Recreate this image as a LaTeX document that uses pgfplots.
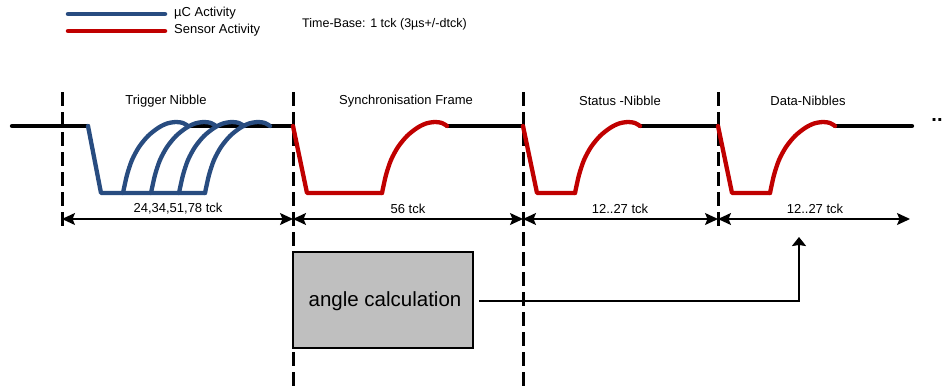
\documentclass[border=0pt]{standalone}
\usepackage{pgfplots}
\pgfplotsset{compat=1.18}
\usepackage{fontspec}
\setmainfont{Liberation Sans}
\usetikzlibrary{arrows.meta}
\definecolor{uCblue}{RGB}{40,76,128}
\definecolor{sred}{RGB}{192,0,0}
\definecolor{boxgray}{RGB}{191,191,191}
\begin{document}
\begin{tikzpicture}
\begin{axis}[
  scale only axis, width=947pt, height=391pt,
  xmin=0, xmax=947, ymin=0, ymax=391, y dir=reverse,
  hide axis, clip=false,
  every axis plot/.append style={line cap=round, line join=round},
]
% legend lines
\addplot[uCblue, line width=4.5pt] coordinates {(68,14) (165,14)};
\addplot[sred, line width=4.5pt] coordinates {(68,31) (165,31)};
\node[anchor=west, font=\fontsize{13}{14}\selectfont, inner sep=0pt] at (axis cs:174,13) {µC Activity};
\node[anchor=west, font=\fontsize{13}{14}\selectfont, inner sep=0pt] at (axis cs:174,30) {Sensor Activity};
\node[anchor=west, font=\fontsize{12.5}{14}\selectfont, inner sep=0pt] at (axis cs:302,24) {Time-Base: 1 tck (3µs+/-dtck)};

% dashed frame separators
\addplot[black, line width=3pt, dash pattern=on 14pt off 6pt, line cap=butt] coordinates {(62,92) (62,228)};
\addplot[black, line width=3pt, dash pattern=on 14pt off 6pt, line cap=butt] coordinates {(293,92) (293,391)};
\addplot[black, line width=3pt, dash pattern=on 14pt off 6pt, line cap=butt] coordinates {(523,92) (523,391)};
\addplot[black, line width=3pt, dash pattern=on 14pt off 6pt, line cap=butt] coordinates {(718,92) (718,228)};

% idle (black) level
\addplot[black, line width=4.3pt] coordinates {(12,126) (88,126)};
\addplot[black, line width=4.3pt] coordinates {(189,126) (293,126)};
\addplot[black, line width=4.3pt] coordinates {(447,126) (523,126)};
\addplot[black, line width=4.3pt] coordinates {(640,126) (718,126)};
\addplot[black, line width=4.3pt] coordinates {(835,126) (912,126)};

% trigger nibble (uC)
\addplot[uCblue, line width=4.3pt] coordinates {(88,126) (101,193) (205,193)};
\addplot[uCblue, line width=4.3pt, smooth] coordinates {(123,193) (127,175) (132,160) (139,147) (148,136) (158,128) (167,123.5) (176,122) (183,123) (188,126)};
\addplot[uCblue, line width=4.3pt, smooth] coordinates {(151,193) (155,175) (160,160) (167,147) (176,136) (186,128) (195,123.5) (204,122) (211,123) (216,126)};
\addplot[uCblue, line width=4.3pt, smooth] coordinates {(179,193) (183,175) (188,160) (195,147) (204,136) (214,128) (223,123.5) (232,122) (239,123) (244,126)};
\addplot[uCblue, line width=4.3pt, smooth] coordinates {(205,193) (209,175) (214,160) (221,147) (230,136) (240,128) (249,123.5) (258,122) (265,123) (270,126)};

% synchronisation frame (sensor)
\addplot[sred, line width=4.3pt] coordinates {(293,126) (307,193) (382,193)};
\addplot[sred, line width=4.3pt, smooth] coordinates {(382,193) (386,175) (391,160) (398,147) (407,136) (417,128) (426,123.5) (435,122) (442,123) (447,126)};
% status nibble
\addplot[sred, line width=4.3pt] coordinates {(523,126) (537,193) (575,193)};
\addplot[sred, line width=4.3pt, smooth] coordinates {(575,193) (579,175) (584,160) (591,147) (600,136) (610,128) (619,123.5) (628,122) (635,123) (640,126)};
% data nibbles
\addplot[sred, line width=4.3pt] coordinates {(718,126) (732,193) (770,193)};
\addplot[sred, line width=4.3pt, smooth] coordinates {(770,193) (774,175) (779,160) (786,147) (795,136) (805,128) (814,123.5) (823,122) (830,123) (835,126)};

\node[font=\fontsize{20}{20}\selectfont\bfseries, inner sep=0pt] at (axis cs:937,120) {..};

% titles
\node[font=\fontsize{13}{14}\selectfont] at (axis cs:166,101) {Trigger Nibble};
\node[font=\fontsize{13}{14}\selectfont] at (axis cs:406,101) {Synchronisation Frame};
\node[font=\fontsize{13}{14}\selectfont] at (axis cs:620,101) {Status -Nibble};
\node[font=\fontsize{13}{14}\selectfont] at (axis cs:808,101) {Data-Nibbles};

% dimension arrows
\draw[line width=1.4pt, {Stealth[length=13pt,width=12pt,inset=2.5pt]}-{Stealth[length=13pt,width=12pt,inset=2.5pt]}] (axis cs:62,219) -- (axis cs:293,219);
\draw[line width=1.4pt, {Stealth[length=13pt,width=12pt,inset=2.5pt]}-{Stealth[length=13pt,width=12pt,inset=2.5pt]}] (axis cs:293,219) -- (axis cs:523,219);
\draw[line width=1.4pt, {Stealth[length=13pt,width=12pt,inset=2.5pt]}-{Stealth[length=13pt,width=12pt,inset=2.5pt]}] (axis cs:523,219) -- (axis cs:718,219);
\draw[line width=1.4pt, {Stealth[length=13pt,width=12pt,inset=2.5pt]}-{Stealth[length=13pt,width=12pt,inset=2.5pt]}] (axis cs:718,219) -- (axis cs:910,219);
\node[font=\fontsize{13}{14}\selectfont] at (axis cs:178,209) {24,34,51,78 tck};
\node[font=\fontsize{13}{14}\selectfont] at (axis cs:408,209) {56 tck};
\node[font=\fontsize{13}{14}\selectfont] at (axis cs:620,209) {12..27 tck};
\node[font=\fontsize{13}{14}\selectfont] at (axis cs:815,209) {12..27 tck};

% angle calculation box
\draw[line width=1.6pt, fill=boxgray] (axis cs:293,252) rectangle (axis cs:473,348);
\node[font=\fontsize{20.5}{22}\selectfont] at (axis cs:385,301) {angle calculation};
\draw[line width=2pt, -{Stealth[length=9pt,width=14pt,inset=1pt]}] (axis cs:479,301) -- (axis cs:799,301) -- (axis cs:799,237);
\end{axis}
\pgfresetboundingbox
\path (current axis.south west) rectangle (current axis.north east);
\end{tikzpicture}
\end{document}
